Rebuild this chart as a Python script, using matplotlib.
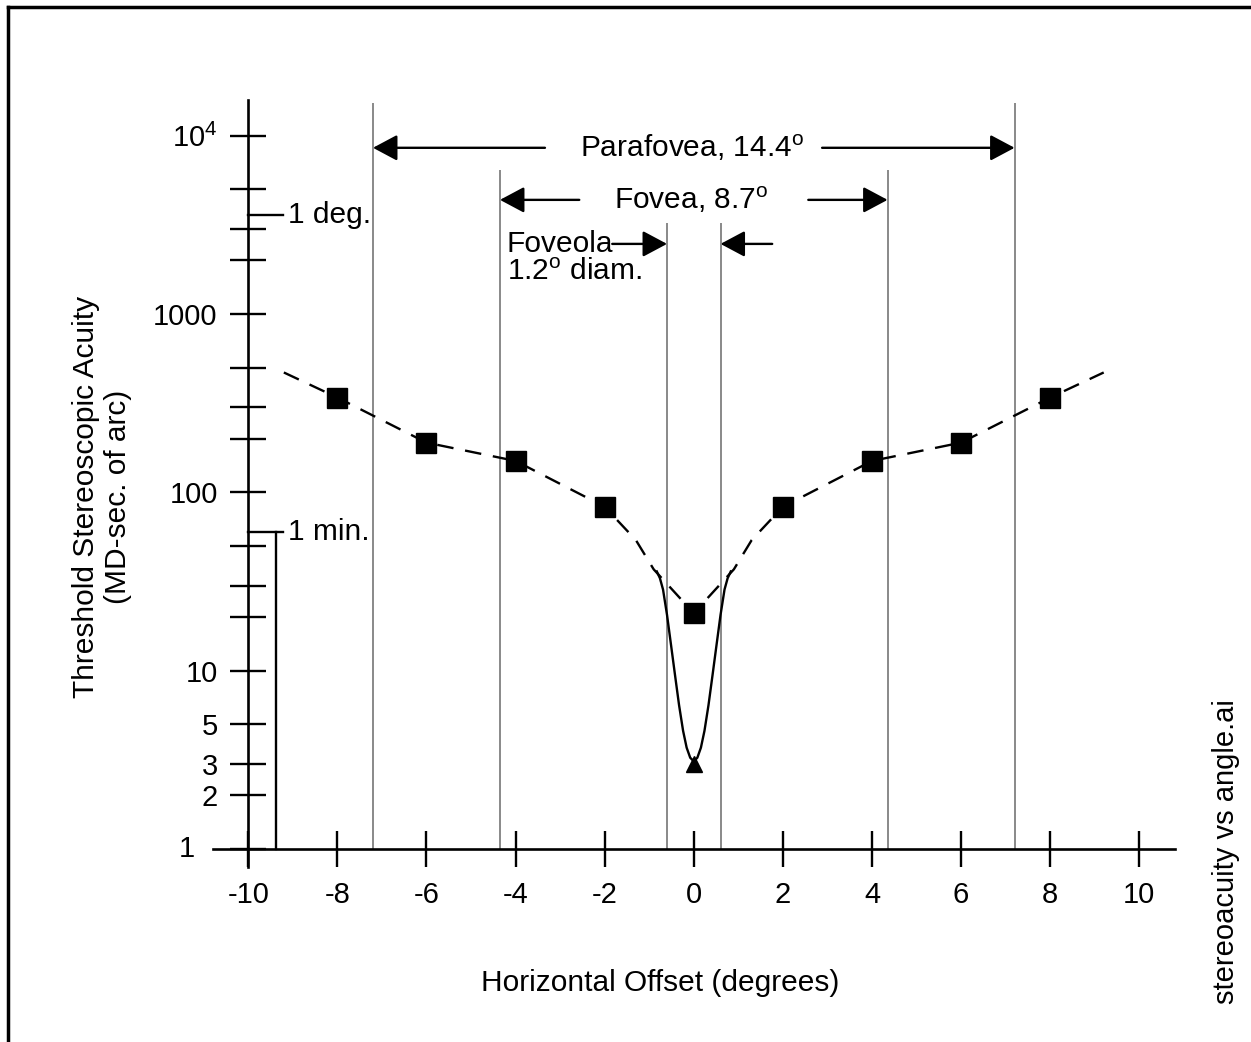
import matplotlib
matplotlib.use("Agg")
import matplotlib.pyplot as plt
from matplotlib.lines import Line2D

plt.rcParams["font.family"] = ["Liberation Sans", "DejaVu Sans"]
plt.rcParams["mathtext.fontset"] = "custom"
plt.rcParams["mathtext.rm"] = "Liberation Sans"
plt.rcParams["mathtext.it"] = "Liberation Sans:italic"

# data
offsets = [-9.2, -8, -6, -4, -2, -1.3, -0.9, 0, 0.9, 1.3, 2, 4, 6, 8, 9.2]
acuity = [470, 340, 190, 150, 83, 54, 37, 21, 37, 54, 83, 150, 190, 340, 470]
square_x = [-8, -6, -4, -2, 0, 2, 4, 6, 8]
square_y = [340, 190, 150, 83, 21, 83, 150, 190, 340]

fovea_x = [-0.83, -0.76, -0.69, -0.60, -0.51, -0.42, -0.33, -0.24, -0.16, -0.08, 0,
           0.08, 0.16, 0.24, 0.33, 0.42, 0.51, 0.60, 0.69, 0.76, 0.83]
fovea_y = [36, 33, 28.5, 20.5, 13.9, 9.4, 6.4, 4.6, 3.7, 3.25, 3.1,
           3.25, 3.7, 4.6, 6.4, 9.4, 13.9, 20.5, 28.5, 33, 36]
center_x = [0]
center_y = [3]

yticks = [1, 2, 3, 5, 10, 20, 30, 50, 100, 200, 300, 500, 1000, 2000, 3000, 5000, 10000]
ytick_labels = {2: "2", 3: "3", 5: "5", 10: "10", 100: "100", 1000: "1000",
                10000: r"10$^{\mathrm{4}}$"}
xticks = [-10, -8, -6, -4, -2, 0, 2, 4, 6, 8, 10]

parafovea = 7.2
fovea = 4.35
foveola = 0.6
one_deg = 3600
one_min = 60

fs = 21.5

fig = plt.figure(figsize=(12.51, 10.42), dpi=100)
ax = fig.add_axes([213 / 1251, 1 - 867 / 1042, 962 / 1251, 767 / 1042])
ax.set_yscale("log")
ax.set_xlim(-10.79, 10.80)
ax.set_ylim(10 ** -0.101, 10 ** 4.2)

for s in ["top", "right"]:
    ax.spines[s].set_visible(False)
ax.spines["left"].set_position(("data", -10))
ax.spines["bottom"].set_position(("data", 1))
ax.spines["left"].set_linewidth(1.9)
ax.spines["bottom"].set_linewidth(1.9)

ax.set_xticks(xticks)
ax.set_xticklabels([str(v) for v in xticks])
ax.set_yticks(yticks)
ax.set_yticklabels([ytick_labels.get(v, "") for v in yticks])
ax.minorticks_off()
ax.tick_params(axis="both", direction="inout", length=26, width=1.7,
               labelsize=21)
ax.tick_params(axis="x", pad=10)
ax.tick_params(axis="y", pad=9)
ax.text(-0.019, 1, "1", transform=ax.get_yaxis_transform(), ha="right",
        va="center", fontsize=21)

# region boundaries
grey = "#808080"
ax.vlines([-parafovea, parafovea], 1, 15300, color=grey, lw=1.3)
ax.vlines([-fovea, fovea], 1, 6400, color=grey, lw=1.3)
ax.vlines([-foveola, foveola], 1, 3250, color=grey, lw=1.3)

arrow = dict(arrowstyle="-|>,head_length=0.75,head_width=0.4", color="black",
             lw=1.7, shrinkA=0, shrinkB=0, mutation_scale=20)
ax.annotate("", xy=(-parafovea, 8550), xytext=(-3.34, 8550), arrowprops=arrow)
ax.annotate("", xy=(parafovea, 8550), xytext=(2.88, 8550), arrowprops=arrow)
ax.text(-0.05, 8550, r"Parafovea, 14.4$^{\mathrm{o}}$", ha="center", va="center",
        fontsize=fs)
ax.annotate("", xy=(-fovea, 4365), xytext=(-2.57, 4365), arrowprops=arrow)
ax.annotate("", xy=(fovea, 4365), xytext=(2.57, 4365), arrowprops=arrow)
ax.text(-0.05, 4365, r"Fovea, 8.7$^{\mathrm{o}}$", ha="center", va="center",
        fontsize=fs)
ax.annotate("", xy=(-foveola, 2472), xytext=(-1.83, 2472), arrowprops=arrow)
ax.annotate("", xy=(foveola, 2472), xytext=(1.76, 2472), arrowprops=arrow)
ax.text(-4.2, 2472, "Foveola", ha="left", va="center", fontsize=fs)
ax.text(-4.2, 1722, r"1.2$^{\mathrm{o}}$ diam.", ha="left", va="center",
        fontsize=fs)

# 1 deg / 1 min markers
ax.plot([-10, -9.22], [one_deg, one_deg], color="black", lw=1.7)
ax.text(-9.1, one_deg, "1 deg.", ha="left", va="center", fontsize=fs)
ax.plot([-10, -9.22], [one_min, one_min], color="black", lw=1.7)
ax.plot([-9.38, -9.38], [one_min, 1], color="black", lw=1.7)
ax.text(-9.1, one_min, "1 min.", ha="left", va="center", fontsize=fs)

# data
ax.plot(offsets, acuity, color="black", lw=1.7, dashes=(7, 5))
ax.plot(fovea_x, fovea_y, color="black", lw=1.7)
ax.plot(square_x, square_y, "s", color="black", markersize=14)
ax.plot(center_x, center_y, "^", color="black", markersize=12)

fig.text(660 / 1251, 1 - 983 / 1042, "Horizontal Offset (degrees)",
         ha="center", va="center", fontsize=fs)
fig.text(102 / 1251, 1 - 497 / 1042,
         "Threshold Stereoscopic Acuity\n(MD-sec. of arc)", rotation=90,
         ha="center", va="center", multialignment="center", fontsize=fs)
fig.text(1226 / 1251, 1 - 852 / 1042, "stereoacuity vs angle.ai",
         rotation=90, ha="center", va="center", fontsize=21)

# frame
fig.add_artist(Line2D([8 / 1251, 1], [1 - 7 / 1042, 1 - 7 / 1042],
                      color="black", lw=2.5))
fig.add_artist(Line2D([8 / 1251, 8 / 1251], [0, 1 - 7 / 1042],
                      color="black", lw=2.5))

fig.savefig("out.png", dpi=100)
